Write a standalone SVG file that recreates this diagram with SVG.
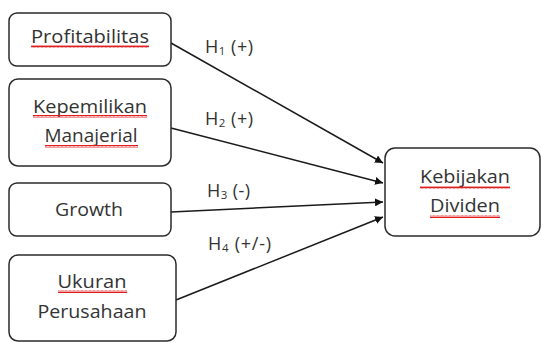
<svg xmlns="http://www.w3.org/2000/svg" width="542" height="343" viewBox="0 0 542 343">
<defs>
<style>
.box{fill:#fff;stroke:#2b2b2b;stroke-width:1.5}
.t{font-family:"Open Sans","Liberation Sans",sans-serif;font-size:18.5px;fill:#333;text-anchor:middle}
.lab{font-family:"Open Sans","Liberation Sans",sans-serif;font-size:18px;fill:#333}
.sub{font-size:11.5px}
.conn{stroke:#1a1a1a;stroke-width:1.5;fill:none;marker-end:url(#ah)}
</style>
<marker id="ah" viewBox="0 0 10 10" refX="10" refY="5" markerWidth="8" markerHeight="8" markerUnits="userSpaceOnUse" orient="auto">
<path d="M0,0 L10,5 L0,10 z" fill="#111"/>
</marker>
<pattern id="wv" width="4" height="3" patternUnits="userSpaceOnUse">
<path d="M0,2.5 L1,0.5 L2,2.5 L3,0.5 L4,2.5" stroke="#e02020" stroke-width="1" fill="none"/>
</pattern>
</defs>
<g id="connectors">
<line class="conn" x1="171" y1="43" x2="383" y2="163"/>
<line class="conn" x1="171" y1="128" x2="383" y2="183"/>
<line class="conn" x1="171" y1="212" x2="383" y2="202"/>
<line class="conn" x1="176" y1="300" x2="383" y2="217"/>
<text class="lab" x="205" y="53" textLength="48">H<tspan class="sub" dy="2">1</tspan><tspan dy="-2"> (+)</tspan></text>
<text class="lab" x="205" y="125" textLength="48">H<tspan class="sub" dy="2">2</tspan><tspan dy="-2"> (+)</tspan></text>
<text class="lab" x="207" y="197" textLength="43">H<tspan class="sub" dy="2">3</tspan><tspan dy="-2"> (-)</tspan></text>
<text class="lab" x="208" y="250" textLength="63">H<tspan class="sub" dy="2">4</tspan><tspan dy="-2"> (+/-)</tspan></text>
</g>
<g id="profitabilitas">
<rect class="box" x="9" y="13" width="162" height="53" rx="8"/>
<text class="t" x="90" y="43" textLength="118" lengthAdjust="spacingAndGlyphs">Profitabilitas</text>
<rect x="31" y="45" width="118" height="3" fill="url(#wv)"/>
</g>
<g id="kepemilikan">
<rect class="box" x="9" y="79" width="162" height="87" rx="9"/>
<text class="t" x="90" y="113" textLength="114" lengthAdjust="spacingAndGlyphs">Kepemilikan</text>
<rect x="33" y="115" width="114" height="3" fill="url(#wv)"/>
<text class="t" x="91" y="142" textLength="93" lengthAdjust="spacingAndGlyphs">Manajerial</text>
<rect x="45" y="145" width="93" height="3" fill="url(#wv)"/>
</g>
<g id="growth">
<rect class="box" x="9" y="183" width="162" height="53" rx="8"/>
<text class="t" x="89" y="216" textLength="68" lengthAdjust="spacingAndGlyphs">Growth</text>
</g>
<g id="ukuran">
<rect class="box" x="9" y="255" width="167" height="86" rx="9"/>
<text class="t" x="92" y="288" textLength="69" lengthAdjust="spacingAndGlyphs">Ukuran</text>
<rect x="58" y="290" width="69" height="3" fill="url(#wv)"/>
<text class="t" x="92" y="318" textLength="109" lengthAdjust="spacingAndGlyphs">Perusahaan</text>
</g>
<g id="kebijakan">
<rect class="box" x="385" y="148" width="155" height="88" rx="10"/>
<text class="t" x="465" y="183" textLength="90" lengthAdjust="spacingAndGlyphs">Kebijakan</text>
<rect x="420" y="186" width="90" height="3" fill="url(#wv)"/>
<text class="t" x="465" y="212" textLength="70" lengthAdjust="spacingAndGlyphs">Dividen</text>
<rect x="430" y="215" width="70" height="3" fill="url(#wv)"/>
</g>
</svg>
